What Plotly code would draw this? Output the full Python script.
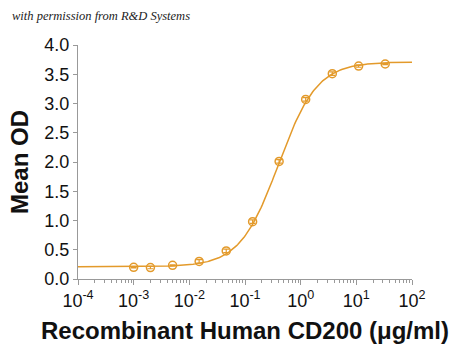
import numpy as np
import plotly.graph_objects as go

# Measured data (concentration in µg/ml, mean OD)
conc = [0.001, 0.002, 0.005, 0.015, 0.046, 0.137, 0.41, 1.23, 3.7, 11.0, 33.0]
mean_od = [0.20, 0.195, 0.234, 0.30, 0.48, 0.98, 2.01, 3.07, 3.51, 3.64, 3.675]
err = [0.01, 0.02, 0.01, 0.03, 0.03, 0.03, 0.03, 0.03, 0.03, 0.02, 0.01]

# 4-parameter logistic fit parameters
bottom, top, ec50, hill = 0.21, 3.71, 0.40, 1.25

x_tick_vals = [1e-4, 1e-3, 1e-2, 1e-1, 1, 10, 100]
y_tick_vals = [0.0, 0.5, 1.0, 1.5, 2.0, 2.5, 3.0, 3.5, 4.0]
y_tick_text = ["0.0", "0.5", "1.0", "1.5", "2.0", "2.5", "3.0", "3.5", "4.0"]

COLOR = "#E39A2B"

xfit = np.logspace(-4, 2, 300)
yfit = bottom + (top - bottom) / (1 + (ec50 / xfit) ** hill)

minor_vals = [m * 10.0 ** e for e in range(-4, 2) for m in range(2, 10)]

fig = go.Figure()
fig.add_trace(go.Scatter(x=xfit, y=yfit, mode="lines",
                         line=dict(color=COLOR, width=1.5), hoverinfo="skip"))
fig.add_trace(go.Scatter(x=conc, y=mean_od, mode="markers",
                         marker=dict(symbol="circle-open", size=8, color=COLOR,
                                     line=dict(width=1.5, color=COLOR)),
                         error_y=dict(type="data", array=err, color=COLOR,
                                      thickness=1.2, width=3)))

fig.update_layout(
    width=450, height=354,
    margin=dict(l=78, r=38, t=45, b=75),
    paper_bgcolor="white", plot_bgcolor="white",
    showlegend=False,
    font=dict(family="Liberation Sans, Arial, sans-serif", color="#111"),
    xaxis=dict(
        type="log", range=[-4, 2],
        tickmode="array", tickvals=x_tick_vals,
        ticktext=["10<sup>-4</sup>", "10<sup>-3</sup>", "10<sup>-2</sup>", "10<sup>-1</sup>",
                  "10<sup>0</sup>", "10<sup>1</sup>", "10<sup>2</sup>"],
        showline=True, linecolor="#999", linewidth=1,
        ticks="outside", ticklen=5, tickcolor="#999",
        minor=dict(tickmode="array", tickvals=minor_vals, ticks="outside",
                   ticklen=3, tickcolor="#999"),
        showgrid=False, zeroline=False,
        tickfont=dict(size=18),
        title=dict(text="<b>Recombinant Human CD200 (μg/ml)</b>",
                   font=dict(size=24), standoff=12),
    ),
    yaxis=dict(
        range=[0, 4],
        tickmode="array", tickvals=y_tick_vals, ticktext=y_tick_text,
        showline=True, linecolor="#999", linewidth=1,
        ticks="outside", ticklen=4, tickcolor="#999",
        showgrid=False, zeroline=False,
        tickfont=dict(size=18),
        title=dict(text="<b>Mean OD</b>", font=dict(size=24), standoff=8),
    ),
)

fig.add_annotation(
    text="<i>with permission from R&amp;D Systems</i>",
    xref="paper", yref="paper", x=-0.205, y=1.124,
    xanchor="left", yanchor="middle", showarrow=False,
    font=dict(family="Liberation Serif, serif", size=12.5, color="#222"),
)

fig.write_html("out.html")
